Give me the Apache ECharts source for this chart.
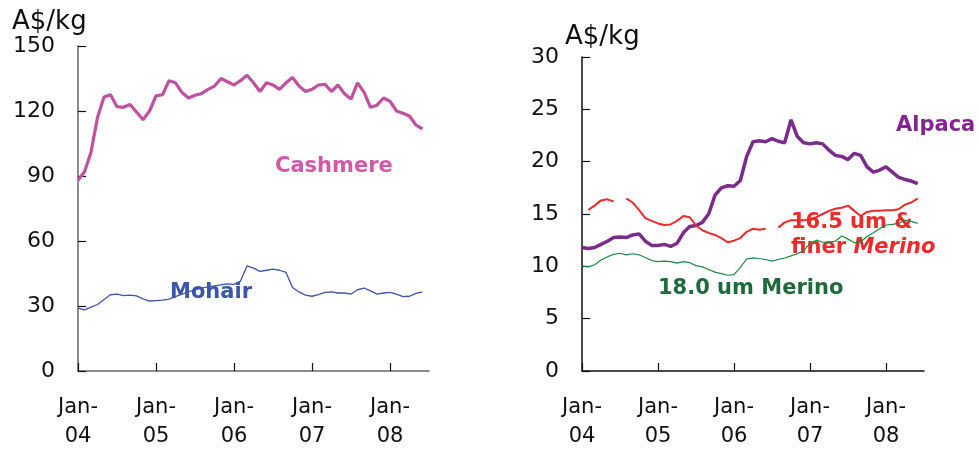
<!DOCTYPE html>
<html>
<head>
<meta charset="utf-8">
<script src="https://cdn.jsdelivr.net/npm/echarts@6/dist/echarts.min.js"></script>
<style>
  html, body { margin: 0; padding: 0; background: #fff; }
  #main { width: 979px; height: 451px; }
</style>
</head>
<body>
<div id="main"></div>
<script>
// monthly axis, Jan-04 .. Jul-08
const monthNames = ['Jan','Feb','Mar','Apr','May','Jun','Jul','Aug','Sep','Oct','Nov','Dec'];
const years = ['04','05','06','07','08'];
const months = [];
years.forEach(y => monthNames.forEach(m => months.push(m + '-' + y)));
months.splice(55); // stop at Jul-08

// A$/kg, left panel
const cashmere = [88, 92, 101, 117, 126.5, 127.5, 122, 121.7, 123, 119.5, 116, 120,
  127, 127.5, 134, 133, 128.5, 126, 127.3, 128, 130, 131.5, 135, 133.5,
  132, 134, 136.5, 133, 129, 133, 132, 130, 133, 135.5, 131.5, 129,
  130, 132, 132.3, 129, 132, 128, 125.5, 133, 128.7, 121.7, 122.7, 126,
  124.5, 120, 119, 117.7, 113.5, 111.7];
const mohair = [29, 28.2, 29.5, 30.7, 33, 35.2, 35.5, 34.8, 35, 34.7, 33.3, 32.3,
  32.5, 32.7, 33.2, 34.3, 35.5, 36.5, 37.5, 38.3, 38.8, 39.3, 39.8, 40.2,
  40, 41.5, 48.5, 47.5, 46, 46.5, 47, 46.5, 45.5, 38.5, 36.5, 35,
  34.5, 35.3, 36.3, 36.5, 36, 36, 35.5, 37.5, 38.3, 37, 35.5, 36,
  36.3, 35.5, 34.3, 34.5, 35.8, 36.5];

// A$/kg, right panel
const alpaca = [11.8, 11.7, 11.8, 12.1, 12.4, 12.75, 12.8, 12.75, 13.0, 13.1, 12.4, 12.0,
  12.0, 12.1, 11.9, 12.2, 13.2, 13.8, 13.9, 14.2, 15.0, 16.8, 17.5, 17.7,
  17.65, 18.2, 20.5, 21.9, 22.0, 21.9, 22.2, 21.95, 21.8, 24.0, 22.4, 21.8,
  21.7, 21.8, 21.7, 21.1, 20.6, 20.5, 20.2, 20.8, 20.6, 19.5, 19.0, 19.2,
  19.5, 19.0, 18.5, 18.3, 18.15, 17.9];
const merino165 = [null, 15.4, 15.8, 16.3, 16.4, 16.2, null, 16.5, 16.1, 15.4, 14.6, 14.35,
  14.1, 13.95, 14.0, 14.35, 14.8, 14.7, 13.9, 13.45, 13.2, 13.0, 12.7, 12.3,
  12.45, 12.7, 13.3, 13.6, 13.5, 13.6, null, 13.7, 14.2, 14.4, 14.4, 14.4,
  14.5, 14.7, 15.0, 15.3, 15.5, 15.6, 15.8, 15.3, 14.8, 15.2, 15.3, 15.3,
  15.35, 15.35, 15.45, 15.9, 16.1, 16.5];
const merino180 = [10.05, 9.95, 10.15, 10.6, 10.9, 11.15, 11.25, 11.1, 11.2, 11.1, 10.85, 10.55,
  10.45, 10.5, 10.45, 10.3, 10.45, 10.35, 10.07, 9.95, 9.7, 9.45, 9.3, 9.15,
  9.2, 9.9, 10.7, 10.8, 10.75, 10.65, 10.5, 10.65, 10.8, 11.0, 11.2, 11.5,
  12.2, 12.5, 12.3, 12.3, 12.4, 12.9, 12.6, 12.25, 12.35, 12.85, 13.2, 13.6,
  13.95, 14.0, 14.1, 14.4, 14.3, 14.1];

const FONT = 'DejaVu Sans';
const isJan = (i) => i % 12 === 0;

function xAxisFor(gridIndex, lineColor) {
  return {
    type: 'category', gridIndex: gridIndex, data: months, boundaryGap: false,
    axisLine: {lineStyle: {color: lineColor, width: 1.5}},
    axisTick: {inside: true, length: 8, interval: (i) => isJan(i), lineStyle: {color: '#111', width: 1.2}},
    axisLabel: {
      interval: (i) => isJan(i), margin: 22, color: '#111', fontFamily: FONT, fontSize: 21, lineHeight: 29,
      formatter: (v) => v.replace('-', '-\n')
    },
    splitLine: {show: false}
  };
}
function yAxisFor(gridIndex, max, interval, lineColor) {
  return {
    type: 'value', gridIndex: gridIndex, min: 0, max: max, interval: interval,
    axisLine: {show: true, lineStyle: {color: lineColor, width: 1.5}},
    axisTick: {show: true, inside: true, length: 8, lineStyle: {color: '#111', width: 1.2}},
    axisLabel: {margin: 23, color: '#111', fontFamily: FONT, fontSize: 22},
    splitLine: {show: false}
  };
}
function line(name, data, xi, color, width) {
  return {
    name: name, type: 'line', xAxisIndex: xi, yAxisIndex: xi, data: data,
    showSymbol: false, symbol: 'none', connectNulls: false, z: 3,
    lineStyle: {color: color, width: width}, animation: false
  };
}
function label(text, x, y, color) {
  return {
    type: 'text', left: x, top: y, z: 0,
    style: {text: text, fill: color, font: 'bold 21px "' + FONT + '"'}
  };
}

const chart = echarts.init(document.getElementById('main'));
chart.setOption({
  animation: false,
  grid: [
    {left: 78, top: 46, width: 351, height: 329},
    {left: 582, top: 57, width: 342, height: 321}
  ],
  xAxis: [xAxisFor(0, '#666'), xAxisFor(1, '#111')],
  yAxis: [yAxisFor(0, 150, 30, '#666'), yAxisFor(1, 30, 5, '#111')],
  series: [
    line('Cashmere', cashmere, 0, '#C051A1', 3.2),
    line('Mohair', mohair, 0, '#3B56AA', 1.3),
    line('Alpaca', alpaca, 1, '#7B2B8B', 3.5),
    line('16.5 um & finer Merino', merino165, 1, '#EE2A2A', 2),
    line('18.0 um Merino', merino180, 1, '#1E8A43', 1.2)
  ],
  graphic: [
    {type: 'text', left: 12, top: 9, style: {text: 'A$/kg', fill: '#111', font: '26px "' + FONT + '"'}},
    {type: 'text', left: 565, top: 24, style: {text: 'A$/kg', fill: '#111', font: '26px "' + FONT + '"'}},
    label('Cashmere', 275, 156, '#D558A8'),
    label('Mohair', 170, 282, '#3B56AA'),
    label('Alpaca', 896, 115, '#83268F'),
    label('16.5 um &', 791, 212, '#EE2A2A'),
    {type: 'text', left: 791, top: 237, z: 0, style: {
      rich: {n: {font: 'bold 21px "' + FONT + '"', fill: '#EE2A2A'}, i: {font: 'italic bold 21px "' + FONT + '"', fill: '#EE2A2A'}},
      text: '{n|finer }{i|Merino}'
    }},
    label('18.0 um Merino', 658, 278, '#1D6B3A')
  ]
});
</script>
</body>
</html>
